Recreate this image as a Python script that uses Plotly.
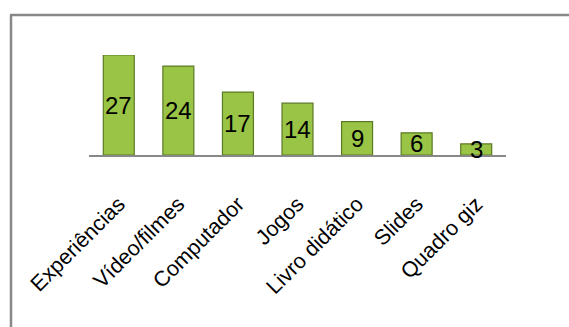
import plotly.graph_objects as go

categories = ["Experiências", "Vídeo/filmes", "Computador", "Jogos", "Livro didático", "Slides", "Quadro giz"]
values = [27, 24, 17, 14, 9, 6, 3]

W, H = 569, 327
BASE, TOP = 155, 55  # pixel rows of value 0 and value 27

fig = go.Figure()
fig.add_trace(go.Bar(
    x=categories, y=values,
    marker=dict(color="#99C446", line=dict(color="#5B7A24", width=1.2)),
    width=0.52,
    textposition="none",
    hoverinfo="skip",
))
# data labels centered in bars
for c, v in zip(categories, values):
    fig.add_annotation(x=c, y=v / 2, text=str(v), showarrow=False,
                       font=dict(family="Liberation Sans", size=24, color="#000000"),
                       xref="x", yref="y")

fig.update_layout(
    width=W, height=H,
    margin=dict(l=0, r=0, t=0, b=0, autoexpand=False),
    paper_bgcolor="white", plot_bgcolor="white",
    showlegend=False,
    xaxis=dict(domain=[89 / W, 506 / W], showline=True, linecolor="#888888", linewidth=2,
               showgrid=False, ticks="", tickangle=-45, automargin=False,
               tickfont=dict(family="Liberation Sans", size=21.5, color="#000000"),
               ticklabelstandoff=26),
    yaxis=dict(domain=[(H - BASE) / H, (H - TOP) / H], range=[0, 27], visible=False,
               showgrid=False, zeroline=False, automargin=False),
    shapes=[
        dict(type="line", xref="paper", yref="paper", x0=10 / W, x1=1.0, y0=(H - 15) / H, y1=(H - 15) / H,
             line=dict(color="#888888", width=2.5)),
        dict(type="line", xref="paper", yref="paper", x0=11 / W, x1=11 / W, y0=(H - 15) / H, y1=0,
             line=dict(color="#888888", width=2.5)),
    ],
)

fig.write_html("out.html")
